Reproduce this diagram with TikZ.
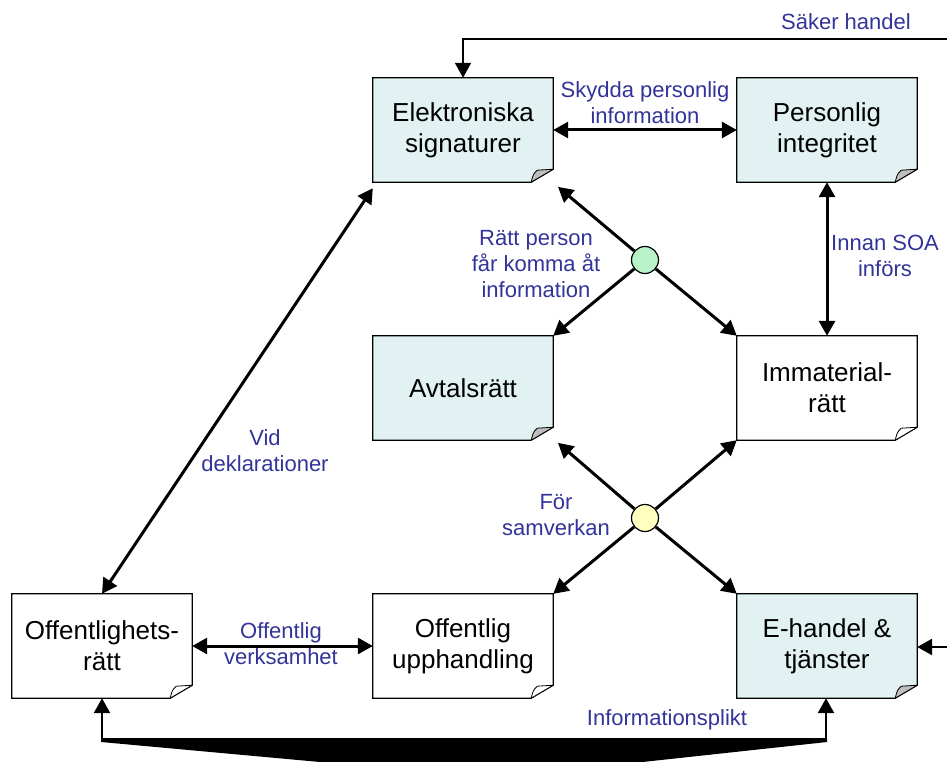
\documentclass[tikz,border=0pt]{standalone}
\usepackage{fontspec}
\setmainfont{Liberation Sans}
\usetikzlibrary{arrows.meta,backgrounds}

\definecolor{notefill}{RGB}{226,242,242}
\definecolor{foldgray}{RGB}{190,190,190}
\definecolor{labelblue}{RGB}{51,51,153}
\definecolor{hubgreen}{RGB}{183,242,200}
\definecolor{hubyellow}{RGB}{255,255,192}

\begin{document}
\begin{tikzpicture}[x=1pt,y=-1pt,
  note/.style={minimum width=180pt,minimum height=104pt,inner sep=0pt,
    align=center,font=\fontsize{26}{31}\selectfont},
  lbl/.style={text=labelblue,align=center,inner sep=0pt,
    font=\fontsize{22}{26}\selectfont},
  hub/.style={circle,draw,line width=1.2pt,minimum size=27pt,inner sep=0pt},
  tip/.style={-{Triangle[length=15pt,width=16pt]}},
  both/.style={{Triangle[length=15pt,width=16pt]}-{Triangle[length=15pt,width=16pt]}},
  link/.style={line width=3pt}]

\useasboundingbox (0,0) rectangle (947,762);

% law areas
\node[note] (es) at (463,130) {Elektroniska\\signaturer};
\node[note] (pi) at (827,130) {Personlig\\integritet};
\node[note] (av) at (463,388) {Avtalsrätt};
\node[note] (im) at (827,388) {Immaterial-\\rätt};
\node[note] (of) at (102,646) {Offentlighets-\\rätt};
\node[note] (ou) at (463,646) {Offentlig\\upphandling};
\node[note] (eh) at (827,646) {E-handel \&\\tjänster};

% note sheets with a curled bottom-right corner
\begin{scope}[on background layer]
\foreach \n/\f/\g in {es/notefill/foldgray,pi/notefill/foldgray,av/notefill/foldgray,
    eh/notefill/foldgray,im/white/white,of/white/white,ou/white/white}{
  \filldraw[fill=\f,line width=1.2pt,line join=miter]
    (\n.north west) -- (\n.north east) -- ([yshift=13pt]\n.south east)
    -- ([xshift=-22pt]\n.south east) -- (\n.south west) -- cycle;
  \filldraw[fill=\g,line width=0.8pt,line join=round]
    ([xshift=-22pt]\n.south east)
    .. controls ([xshift=-20pt,yshift=8pt]\n.south east) .. ([xshift=-16pt,yshift=12pt]\n.south east)
    -- ([yshift=13pt]\n.south east) -- cycle;
}
\end{scope}

% hubs
\node[hub,fill=hubgreen] (g) at (645,260) {};
\node[hub,fill=hubyellow] (y) at (645,518) {};

% connectors
\draw[link,both] (es.east) -- (pi.west);
\draw[link,both] (pi.south) -- (im.north);
\draw[link,tip,shorten >=1pt] (g) -- ([shift={(4pt,-4pt)}]es.south east);
\draw[link,tip] (g) -- (av.north east);
\draw[link,tip] (g) -- (im.north west);
\draw[link,tip,shorten >=1pt] (y) -- ([shift={(4pt,-2pt)}]av.south east);
\draw[link,tip] (y) -- (im.south west);
\draw[link,tip] (y) -- (ou.north east);
\draw[link,tip] (y) -- (eh.north west);
\draw[link,both] (of.north) -- ([yshift=-6pt]es.south west);
\draw[link,both] (of.east) -- (ou.west);

\coordinate (sk) at (947,39);
\draw[line width=1.6pt,tip] (sk) -| (es.north);
\coordinate (ek) at (947,647);
\draw[line width=2.6pt,tip] (ek) -- (eh.east |- ek);

\coordinate (bl) at (102,739);
\coordinate (br) at (826,739);
\draw[line width=2.6pt,tip] (bl) -- (of.south);
\draw[line width=2.6pt,tip] (br) -- (br |- eh.south);
\fill (101,738) -- (827,738) -- (827,742) -- (495,778) -- (101,742) -- cycle;

% labels
\node[lbl] (t1) at (846,22) {Säker handel};
\node[lbl] (t2) at (645,103) {Skydda personlig\\information};
\node[lbl] (t3) at (536,264) {Rätt person\\får komma åt\\information};
\node[lbl] (t4) at (885,256) {Innan SOA\\införs};
\node[lbl] (t5) at (556,515) {För\\samverkan};
\node[lbl] (t6) at (265,451) {Vid\\deklarationer};
\node[lbl] (t7) at (281,644) {Offentlig\\verksamhet};
\node[lbl] (t8) at (667,720) {Informationsplikt};
\end{tikzpicture}
\end{document}
